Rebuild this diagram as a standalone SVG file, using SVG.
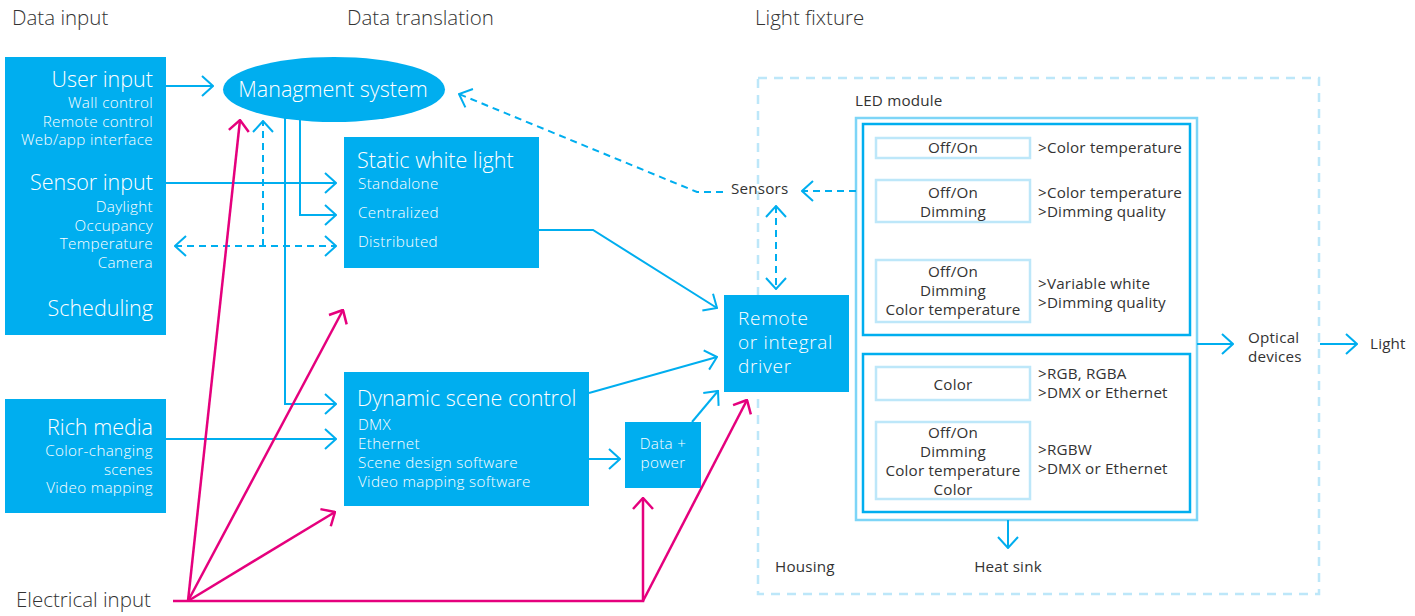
<svg xmlns="http://www.w3.org/2000/svg" width="1415" height="616" viewBox="0 0 1415 616">
<defs>
<style>
text{font-family:"Open Sans","Liberation Sans",sans-serif;font-weight:300}
.t{fill:#333;font-size:20.5px}
.d{fill:#333;font-size:15.2px;font-weight:400;letter-spacing:0.2px}
.w{fill:#fff}
.big{font-size:21.5px}
.drv{font-size:19px;letter-spacing:0.7px}
.sm{font-size:15.2px;letter-spacing:0.35px}
.r{text-anchor:end}
.c{text-anchor:middle}
.box{fill:#00AEEF}
.con{fill:none;stroke:#00AEEF;stroke-width:2}
.dash{stroke-dasharray:7 5}
.el{fill:none;stroke:#E5007D;stroke-width:2.5}
.sub{fill:#fff;stroke:#BDE7F9;stroke-width:2.5}
.inner{fill:none;stroke:#00AEEF;stroke-width:2.5}
</style>
<marker id="ab" viewBox="0 0 14 24" refX="13" refY="12" markerWidth="14" markerHeight="24" markerUnits="userSpaceOnUse" orient="auto-start-reverse"><path d="M2,2 L13,12 L2,22" fill="none" stroke="#00AEEF" stroke-width="2"/></marker>
<marker id="ap" viewBox="0 0 14 24" refX="13" refY="12" markerWidth="14" markerHeight="24" markerUnits="userSpaceOnUse" orient="auto"><path d="M2,2 L13,12 L2,22" fill="none" stroke="#E5007D" stroke-width="2.5"/></marker>
</defs>
<rect width="1415" height="616" fill="#fff"/>

<g id="titles">
<text class="t" x="12" y="25">Data input</text>
<text class="t" x="347" y="25">Data translation</text>
<text class="t" x="755" y="25">Light fixture</text>
</g>

<g id="housing">
<rect x="758" y="78" width="561" height="516" fill="none" stroke="#BDE7F9" stroke-width="2.5" stroke-dasharray="9 7"/>
<text class="d" x="775" y="572">Housing</text>
</g>

<g id="data-input">
<rect class="box" x="5" y="57" width="161" height="278"/>
<text class="w big r" x="153" y="87">User input</text>
<text class="w sm r" x="153" y="108">Wall control</text>
<text class="w sm r" x="153" y="126.5">Remote control</text>
<text class="w sm r" x="153" y="145">Web/app interface</text>
<text class="w big r" x="153" y="190">Sensor input</text>
<text class="w sm r" x="153" y="212">Daylight</text>
<text class="w sm r" x="153" y="230.5">Occupancy</text>
<text class="w sm r" x="153" y="249">Temperature</text>
<text class="w sm r" x="153" y="267.5">Camera</text>
<text class="w big r" x="153" y="316">Scheduling</text>
</g>

<g id="rich-media">
<rect class="box" x="5" y="399" width="161" height="114"/>
<text class="w big r" x="153" y="435">Rich media</text>
<text class="w sm r" x="153" y="456">Color-changing</text>
<text class="w sm r" x="153" y="474.5">scenes</text>
<text class="w sm r" x="153" y="493">Video mapping</text>
</g>

<g id="electrical-input">
<text class="t" x="16" y="607">Electrical input</text>
</g>

<g id="management-system">
<ellipse class="box" cx="334" cy="89.5" rx="111" ry="32.5"/>
<text class="w big c" x="333" y="97">Managment system</text>
</g>

<g id="static-white-light">
<rect class="box" x="344" y="137" width="195" height="131"/>
<text class="w big" x="357" y="168">Static white light</text>
<text class="w sm" x="358" y="189">Standalone</text>
<text class="w sm" x="358" y="218">Centralized</text>
<text class="w sm" x="358" y="247">Distributed</text>
</g>

<g id="dynamic-scene-control">
<rect class="box" x="344" y="372" width="245" height="134"/>
<text class="w big" x="357" y="406">Dynamic scene control</text>
<text class="w sm" x="358" y="430">DMX</text>
<text class="w sm" x="358" y="449">Ethernet</text>
<text class="w sm" x="358" y="468">Scene design software</text>
<text class="w sm" x="358" y="487">Video mapping software</text>
</g>

<g id="data-power">
<rect class="box" x="625" y="422" width="76" height="66"/>
<text class="w sm c" x="663" y="449">Data +</text>
<text class="w sm c" x="663" y="468">power</text>
</g>

<g id="driver">
<rect class="box" x="724" y="295" width="125" height="97"/>
<text class="w drv" x="738" y="325">Remote</text>
<text class="w drv" x="738" y="349">or integral</text>
<text class="w drv" x="738" y="373">driver</text>
</g>

<g id="sensors">
<text class="d" x="731" y="194">Sensors</text>
</g>

<g id="led-module">
<text class="d" x="855" y="106">LED module</text>
<rect x="856" y="118" width="341" height="402" fill="none" stroke="#7DD5F7" stroke-width="2.5"/>
<rect class="inner" x="863" y="124" width="327" height="211"/>
<rect class="inner" x="863" y="354" width="327" height="158"/>
<rect class="sub" x="876" y="138" width="154" height="20"/>
<text class="d c" x="953" y="153">Off/On</text>
<text class="d" x="1038" y="153">&gt;Color temperature</text>
<rect class="sub" x="876" y="180" width="154" height="42"/>
<text class="d c" x="953" y="198">Off/On</text>
<text class="d c" x="953" y="217">Dimming</text>
<text class="d" x="1038" y="198">&gt;Color temperature</text>
<text class="d" x="1038" y="217">&gt;Dimming quality</text>
<rect class="sub" x="876" y="260" width="154" height="62"/>
<text class="d c" x="953" y="277">Off/On</text>
<text class="d c" x="953" y="296">Dimming</text>
<text class="d c" x="953" y="315">Color temperature</text>
<text class="d" x="1038" y="289">&gt;Variable white</text>
<text class="d" x="1038" y="308">&gt;Dimming quality</text>
<rect class="sub" x="876" y="367" width="154" height="33"/>
<text class="d c" x="953" y="390">Color</text>
<text class="d" x="1038" y="379">&gt;RGB, RGBA</text>
<text class="d" x="1038" y="398">&gt;DMX or Ethernet</text>
<rect class="sub" x="876" y="422" width="154" height="77"/>
<text class="d c" x="953" y="438">Off/On</text>
<text class="d c" x="953" y="457">Dimming</text>
<text class="d c" x="953" y="476">Color temperature</text>
<text class="d c" x="953" y="495">Color</text>
<text class="d" x="1038" y="455">&gt;RGBW</text>
<text class="d" x="1038" y="474">&gt;DMX or Ethernet</text>
</g>

<g id="heat-sink"><text class="d c" x="1008" y="572">Heat sink</text></g>
<g id="optical-devices"><text class="d" x="1248" y="343">Optical</text><text class="d" x="1248" y="362">devices</text></g>
<g id="light"><text class="d" x="1370" y="349">Light</text></g>

<g id="connectors">
<path class="con" d="M166,86 H213" marker-end="url(#ab)"/>
<path class="con" d="M166,183 H336" marker-end="url(#ab)"/>
<path class="con" d="M166,439 H336" marker-end="url(#ab)"/>
<path class="con" d="M285,118 V404 H336" marker-end="url(#ab)"/>
<path class="con" d="M300,120 V215 H336" marker-end="url(#ab)"/>
<path class="con dash" d="M175,246 H336" marker-start="url(#ab)" marker-end="url(#ab)"/>
<path class="con dash" d="M263,246 V121" marker-end="url(#ab)"/>
<path class="con" d="M539,230 H593 L717,308" marker-end="url(#ab)"/>
<path class="con" d="M589,393 L717,357" marker-end="url(#ab)"/>
<path class="con" d="M692,422 L718,391" marker-end="url(#ab)"/>
<path class="con" d="M589,459 H620" marker-end="url(#ab)"/>
<path class="con dash" d="M856,191 H802" marker-end="url(#ab)"/>
<path class="con dash" d="M723,192 H697 L459,94" marker-end="url(#ab)"/>
<path class="con dash" d="M776,206 V289" marker-start="url(#ab)" marker-end="url(#ab)"/>
<path class="con" d="M1008,520 V548" marker-end="url(#ab)"/>
<path class="con" d="M1197,344 H1233" marker-end="url(#ab)"/>
<path class="con" d="M1320,344 H1357" marker-end="url(#ab)"/>
<path class="el" d="M173,601 H643 V498" marker-end="url(#ap)"/>
<path class="el" d="M643,601 L747,400" marker-end="url(#ap)"/>
<path class="el" d="M188,601 L240,120" marker-end="url(#ap)"/>
<path class="el" d="M188,601 L343,310" marker-end="url(#ap)"/>
<path class="el" d="M188,601 L335,512" marker-end="url(#ap)"/>
</g>
</svg>
